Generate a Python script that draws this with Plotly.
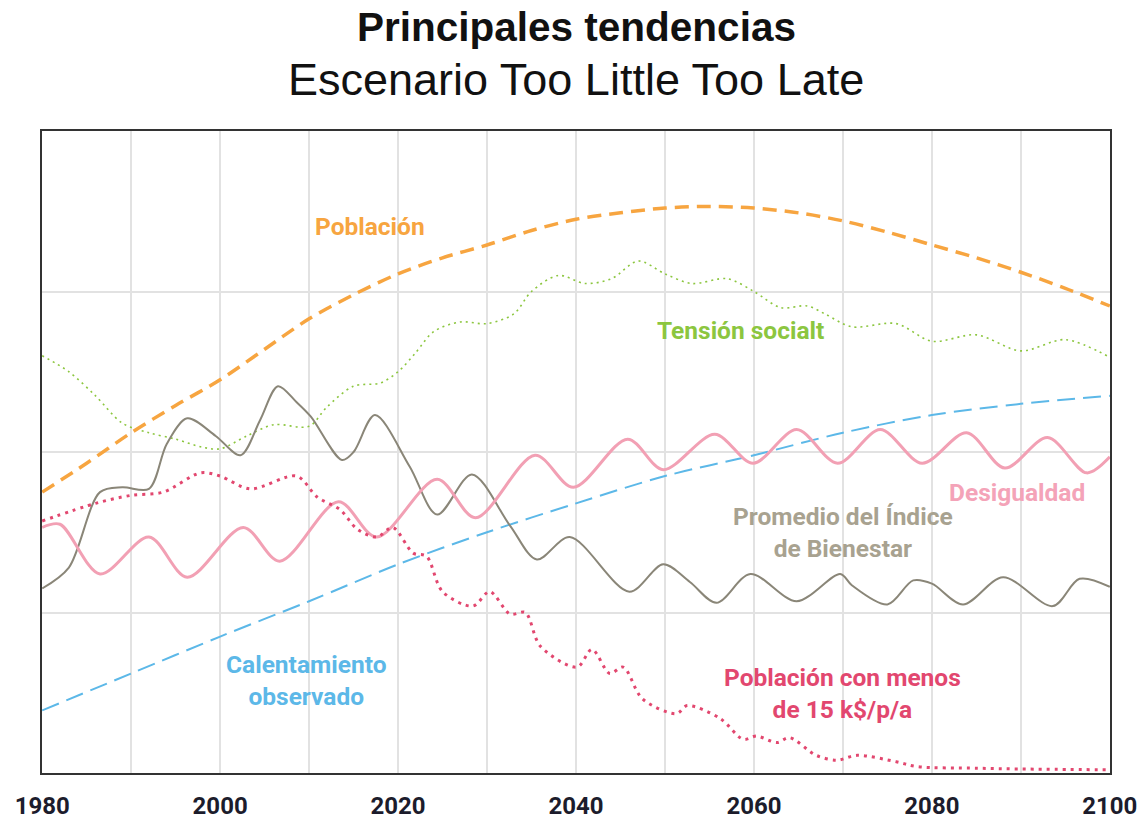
import plotly.graph_objects as go

# ---- data (x = year, y = relative index, 0..4) ----
pop_years = [1980, 1985, 1990, 1995, 2000, 2005, 2010, 2015, 2020, 2025, 2030, 2035, 2040,
             2045, 2050, 2055, 2060, 2065, 2070, 2075, 2080, 2085, 2090, 2095, 2100]
pop_vals = [1.75, 1.93, 2.12, 2.29, 2.45, 2.64, 2.83, 2.98, 3.11, 3.21, 3.29, 3.38, 3.45,
            3.49, 3.52, 3.53, 3.52, 3.49, 3.44, 3.37, 3.29, 3.21, 3.12, 3.02, 2.91]

ten_years = [1980, 1983, 1986, 1989, 1992, 1995, 1998, 2000, 2003, 2006, 2010, 2012, 2015,
             2018, 2020, 2022, 2024, 2027, 2030, 2033, 2035, 2038, 2041, 2044, 2047, 2050,
             2053, 2057, 2060, 2063, 2066, 2068, 2071, 2076, 2080, 2085, 2090, 2095, 2100]
ten_vals = [2.60, 2.50, 2.35, 2.18, 2.12, 2.08, 2.03, 2.02, 2.10, 2.17, 2.16, 2.28, 2.41,
            2.43, 2.50, 2.62, 2.75, 2.81, 2.80, 2.86, 3.00, 3.10, 3.05, 3.08, 3.19, 3.11,
            3.05, 3.08, 3.00, 2.90, 2.91, 2.86, 2.78, 2.80, 2.69, 2.73, 2.63, 2.70, 2.59]

bien_years = [1980, 1983, 1986.5, 1989, 1992, 1994, 1996.3, 1999.5, 2002.3, 2004.5, 2006.5,
              2008.6, 2010.2, 2013.7, 2015, 2017.4, 2021.3, 2024.4, 2028.3, 2032.6, 2035.6,
              2039.3, 2046, 2049.8, 2052.8, 2055.8, 2059.6, 2064.8, 2069.7, 2071, 2075,
              2077.9, 2080, 2083.5, 2088, 2093.6, 2096.6, 2100]
bien_vals = [1.15, 1.28, 1.75, 1.78, 1.77, 2.05, 2.21, 2.10, 1.98, 2.20, 2.41,
             2.31, 2.22, 1.95, 2.00, 2.23, 1.91, 1.61, 1.86, 1.54, 1.33,
             1.47, 1.13, 1.30, 1.19, 1.06, 1.24, 1.07, 1.24, 1.17, 1.05,
             1.20, 1.18, 1.05, 1.22, 1.04, 1.21, 1.16]

des_years = [1980, 1982, 1986.5, 1992, 1996.3, 2002.6, 2006.7, 2013.3, 2017.6, 2024.4,
             2028.7, 2035.4, 2039.7, 2045.8, 2049.8, 2055.6, 2059.9, 2064.8, 2069.4,
             2074.2, 2078.9, 2083.9, 2088.2, 2093, 2097.4, 2100]
des_vals = [1.53, 1.55, 1.24, 1.47, 1.22, 1.53, 1.32, 1.69, 1.47, 1.83,
            1.59, 1.98, 1.78, 2.08, 1.89, 2.11, 1.93, 2.14, 1.93,
            2.14, 1.93, 2.12, 1.90, 2.09, 1.87, 1.97]

cal_years = [1980, 1990, 2000, 2010, 2020, 2030, 2040, 2050, 2060, 2070, 2080, 2090, 2100]
cal_vals = [0.39, 0.62, 0.85, 1.07, 1.30, 1.50, 1.68, 1.85, 1.98, 2.12, 2.23, 2.30, 2.35]

pov_years = [1980, 1986, 1990, 1993.6, 1997.8, 2000, 2003.4, 2008.6, 2010.9, 2013.5, 2015.4,
             2017.6, 2019.4, 2021.7, 2023.2, 2025, 2028.4, 2030.3, 2032.6, 2034.3, 2036,
             2040.1, 2041.8, 2043.8, 2045.3, 2047.5, 2051.3, 2052.5, 2056.2, 2058.8,
             2060.3, 2062.6, 2064, 2067, 2069.3, 2071.6, 2076, 2078.3, 2085, 2090, 2100]
pov_vals = [1.57, 1.68, 1.73, 1.75, 1.87, 1.85, 1.77, 1.85, 1.72, 1.64, 1.52,
            1.47, 1.53, 1.37, 1.35, 1.13, 1.04, 1.13, 0.99, 1.00, 0.79,
            0.66, 0.77, 0.62, 0.66, 0.46, 0.37, 0.42, 0.34, 0.21,
            0.23, 0.19, 0.22, 0.11, 0.08, 0.11, 0.07, 0.04, 0.03, 0.025, 0.02]

tick_years = [1980, 2000, 2020, 2040, 2060, 2080, 2100]

title_text = "Principales tendencias"
subtitle_text = "Escenario Too Little Too Late"

LABEL_FONT = "Roboto, Liberation Sans, sans-serif"

fig = go.Figure()

def add(x, y, color, width, dash, name):
    fig.add_trace(go.Scatter(
        x=x, y=y, mode="lines", name=name,
        line=dict(color=color, width=width, dash=dash, shape="spline", smoothing=0.9),
        hoverinfo="skip"))

add(cal_years, cal_vals, "#5cb8e8", 2, "18px,8px", "Calentamiento observado")
add(ten_years, ten_vals, "#8cc63f", 1.6, "2px,4px", "Tensión social")
add(bien_years, bien_vals, "#8a8678", 2, "solid", "Promedio del Índice de Bienestar")
add(des_years, des_vals, "#f2a0b4", 3, "solid", "Desigualdad")
add(pov_years, pov_vals, "#e2476f", 3, "3px,5px", "Población con menos de 15 k$/p/a")
add(pop_years, pop_vals, "#f7a540", 3.5, "14px,8px", "Población")

labels = [
    (1980 + (370 - 42) / 8.9, (773 - 227) / 160.25, "Población", "#f7a540"),
    (1980 + (741 - 42) / 8.9, (773 - 331) / 160.25, "Tensión socialt", "#8cc63f"),
    (1980 + (1017 - 42) / 8.9, (773 - 493) / 160.25, "Desigualdad", "#f4a3b8"),
    (1980 + (843 - 42) / 8.9, (773 - 533) / 160.25, "Promedio del Índice<br>de Bienestar", "#a8a290"),
    (1980 + (306 - 42) / 8.9, (773 - 681) / 160.25, "Calentamiento<br>observado", "#5cb8e8"),
    (1980 + (843 - 42) / 8.9, (773 - 694) / 160.25, "Población con menos<br>de 15 k$/p/a", "#e2476f"),
]
for x, y, t, c in labels:
    fig.add_annotation(x=x, y=y, xref="x", yref="y", text="<b>" + t + "</b>",
                       showarrow=False, font=dict(family=LABEL_FONT, size=24.5, color=c),
                       align="center", xanchor="center", yanchor="middle")

fig.add_annotation(x=0.5, y=(773 - 27) / 642, xref="paper", yref="paper",
                   text="<b>" + title_text + "</b>", showarrow=False,
                   font=dict(family="Liberation Sans, Arial, sans-serif", size=40.5, color="#111111"),
                   xanchor="center", yanchor="middle")
fig.add_annotation(x=0.5, y=(773 - 80) / 642, xref="paper", yref="paper",
                   text=subtitle_text, showarrow=False,
                   font=dict(family="Liberation Sans, Arial, sans-serif", size=45, color="#111111"),
                   xanchor="center", yanchor="middle")

fig.update_layout(
    width=1142, height=822,
    margin=dict(l=42, r=32, t=131, b=49, autoexpand=False),
    paper_bgcolor="white", plot_bgcolor="white",
    showlegend=False,
    xaxis=dict(range=[1979.98, 2100.02], tickvals=tick_years, ticktext=[str(t) for t in tick_years],
               showgrid=True, gridcolor="#e2e2e2", gridwidth=2,
               minor=dict(dtick=10, tick0=1980, showgrid=True, gridcolor="#e2e2e2", gridwidth=2),
               showline=True, linecolor="#333333", linewidth=2, mirror=True,
               ticks="", zeroline=False, automargin=False, ticklabelstandoff=10,
               tickfont=dict(family=LABEL_FONT, size=24, color="#1c1c2c", weight="bold")),
    yaxis=dict(range=[0, 4], dtick=1, showgrid=True, gridcolor="#e2e2e2", gridwidth=2,
               showticklabels=False, ticks="", zeroline=False, automargin=False,
               showline=True, linecolor="#333333", linewidth=2, mirror=True),
)

fig.write_html("out.html", config={"displayModeBar": False},
               post_script="document.body.style.margin='0';document.body.style.overflow='hidden';")
